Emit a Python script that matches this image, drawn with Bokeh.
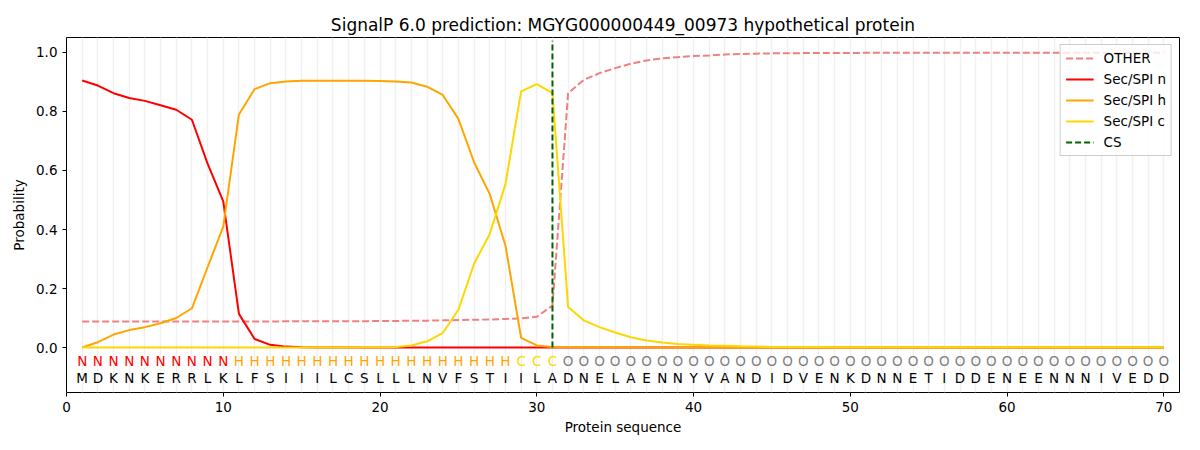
from bokeh.plotting import figure
from bokeh.models import Range1d, FixedTicker, Legend, LegendItem, ColumnDataSource, PrintfTickFormatter
from bokeh.core.properties import value
from bokeh.embed import file_html
from bokeh.resources import INLINE

title = "SignalP 6.0 prediction: MGYG000000449_00973 hypothetical protein"
sequence = "MDKNKERRLKLFSIIILCSLLLNVFSTIILADNELAENNYVANDIDVENKDNNETIDDENEENNNIVEDD"
labels = "NNNNNNNNNNHHHHHHHHHHHHHHHHHHCCCOOOOOOOOOOOOOOOOOOOOOOOOOOOOOOOOOOOOOOO"
positions = list(range(1, 71))

other = [0.088, 0.088, 0.088, 0.088, 0.088, 0.088, 0.088, 0.088, 0.088, 0.088,
         0.088, 0.088, 0.088, 0.089, 0.089, 0.089, 0.089, 0.089, 0.089, 0.090,
         0.090, 0.091, 0.091, 0.092, 0.093, 0.094, 0.095, 0.097, 0.099, 0.104,
         0.142, 0.862, 0.907, 0.930, 0.947, 0.962, 0.973, 0.980, 0.984, 0.988,
         0.990, 0.993, 0.995, 0.996, 0.997, 0.997, 0.998, 0.998, 0.998, 0.998,
         0.999, 0.999, 0.999, 0.999, 0.999, 0.999, 0.999, 0.999, 0.999, 0.999,
         0.999, 0.999, 0.999, 0.999, 0.999, 0.999, 0.999, 0.999, 0.999, 0.999]
sec_n = [0.905, 0.888, 0.862, 0.846, 0.836, 0.821, 0.806, 0.772, 0.623, 0.495,
         0.114, 0.029, 0.009, 0.003, 0.001, 0.0, 0.0, 0.0, 0.0, 0.0,
         0.0, 0.0, 0.0, 0.0, 0.0, 0.0, 0.0, 0.0, 0.0, 0.0,
         0.0, 0.0, 0.0, 0.0, 0.0, 0.0, 0.0, 0.0, 0.0, 0.0,
         0.0, 0.0, 0.0, 0.0, 0.0, 0.0, 0.0, 0.0, 0.0, 0.0,
         0.0, 0.0, 0.0, 0.0, 0.0, 0.0, 0.0, 0.0, 0.0, 0.0,
         0.0, 0.0, 0.0, 0.0, 0.0, 0.0, 0.0, 0.0, 0.0, 0.0]
sec_h = [0.0, 0.018, 0.044, 0.059, 0.069, 0.082, 0.100, 0.133, 0.272, 0.410,
         0.790, 0.876, 0.896, 0.902, 0.904, 0.904, 0.904, 0.904, 0.904, 0.903,
         0.902, 0.898, 0.884, 0.856, 0.775, 0.628, 0.520, 0.346, 0.033, 0.007,
         0.002, 0.001, 0.001, 0.001, 0.001, 0.001, 0.0, 0.0, 0.0, 0.0,
         0.0, 0.0, 0.0, 0.0, 0.0, 0.0, 0.0, 0.0, 0.0, 0.0,
         0.0, 0.0, 0.0, 0.0, 0.0, 0.0, 0.0, 0.0, 0.0, 0.0,
         0.0, 0.0, 0.0, 0.0, 0.0, 0.0, 0.0, 0.0, 0.0, 0.0]
sec_c = [0.0, 0.0, 0.0, 0.0, 0.0, 0.0, 0.0, 0.0, 0.0, 0.0,
         0.0, 0.0, 0.0, 0.0, 0.0, 0.0, 0.0, 0.0, 0.001, 0.001,
         0.002, 0.007, 0.021, 0.049, 0.128, 0.284, 0.385, 0.553, 0.868, 0.893,
         0.862, 0.137, 0.092, 0.069, 0.051, 0.035, 0.024, 0.017, 0.012, 0.009,
         0.007, 0.006, 0.004, 0.003, 0.002, 0.002, 0.002, 0.002, 0.001, 0.001,
         0.001, 0.001, 0.001, 0.001, 0.001, 0.001, 0.001, 0.001, 0.001, 0.001,
         0.001, 0.001, 0.001, 0.001, 0.001, 0.001, 0.001, 0.001, 0.001, 0.001]
cs_position = 31

label_colors = {"N": "red", "H": "orange", "C": "gold", "O": "gray"}
FONT = "DejaVu Sans"

p = figure(frame_width=1113, frame_height=355, min_border_left=66, min_border_right=5,
           min_border_top=37, min_border_bottom=42, output_backend="svg",
           toolbar_location=None, x_range=Range1d(0, 71), y_range=Range1d(-0.1525, 1.0508))
p.title.text = title
p.title.align = "center"
p.title.text_font = FONT
p.title.text_font_size = "17px"
p.title.text_font_style = "normal"
p.title.text_color = "black"
p.title.standoff = 6
p.background_fill_color = "white"
p.outline_line_color = "black"
p.outline_line_alpha = 1
p.outline_line_width = 1

p.ygrid.visible = False
p.xgrid.ticker = FixedTicker(ticks=positions)
p.xgrid.grid_line_color = "#f0f0f0"
p.xgrid.grid_line_alpha = 1
p.xgrid.grid_line_width = 1.5

p.xaxis.ticker = FixedTicker(ticks=[0, 10, 20, 30, 40, 50, 60, 70])
p.yaxis.ticker = FixedTicker(ticks=[0.0, 0.2, 0.4, 0.6, 0.8, 1.0])
p.yaxis.formatter = PrintfTickFormatter(format="%.1f")
for ax in (p.xaxis, p.yaxis):
    ax.minor_tick_line_color = None
    ax.major_tick_in = 0
    ax.major_tick_out = 4
    ax.major_label_text_font = FONT
    ax.major_label_text_font_size = "13.5px"
    ax.major_label_text_color = "black"
    ax.axis_label_text_font = FONT
    ax.axis_label_text_font_size = "13.5px"
    ax.axis_label_text_font_style = "normal"
    ax.axis_label_text_color = "black"
    ax.axis_line_color = None
    ax.major_tick_line_color = "black"
p.xaxis.axis_label = "Protein sequence"
p.yaxis.axis_label = "Probability"
p.xaxis.axis_label_standoff = 4
p.yaxis.axis_label_standoff = 6

r_other = p.line(positions, other, line_color="lightcoral", line_width=2, line_dash="7 3")
r_n = p.line(positions, sec_n, line_color="red", line_width=2)
r_h = p.line(positions, sec_h, line_color="orange", line_width=2)
r_c = p.line(positions, sec_c, line_color="gold", line_width=2)
r_cs = p.segment(x0=[cs_position], y0=[0.0], x1=[cs_position], y1=[1.04],
                 line_color="darkgreen", line_width=2, line_dash="6 3")

src = ColumnDataSource(dict(
    x=positions,
    lab=list(labels),
    seq=list(sequence),
    col=[label_colors[c] for c in labels],
    y1=[-0.047] * len(positions),
    y2=[-0.102] * len(positions),
))
p.text(x="x", y="y1", text="lab", text_color="col", source=src, text_align="center",
       text_baseline="middle", text_font=value(FONT), text_font_size="13.5px")
p.text(x="x", y="y2", text="seq", text_color="black", source=src, text_align="center",
       text_baseline="middle", text_font=value(FONT), text_font_size="13.5px")

legend = Legend(items=[
    LegendItem(label="OTHER", renderers=[r_other]),
    LegendItem(label="Sec/SPI n", renderers=[r_n]),
    LegendItem(label="Sec/SPI h", renderers=[r_h]),
    LegendItem(label="Sec/SPI c", renderers=[r_c]),
    LegendItem(label="CS", renderers=[r_cs]),
], location="top_right")
legend.label_text_font = FONT
legend.label_text_font_size = "13.5px"
legend.label_text_color = "black"
legend.border_line_color = "#cccccc"
legend.border_line_alpha = 1
legend.background_fill_alpha = 0.8
legend.glyph_width = 28
legend.glyph_height = 14
legend.label_height = 14
legend.spacing = 5
legend.padding = 5
legend.margin = 7
legend.label_standoff = 10
p.add_layout(legend)

open("out.html", "w").write(file_html(p, INLINE))
